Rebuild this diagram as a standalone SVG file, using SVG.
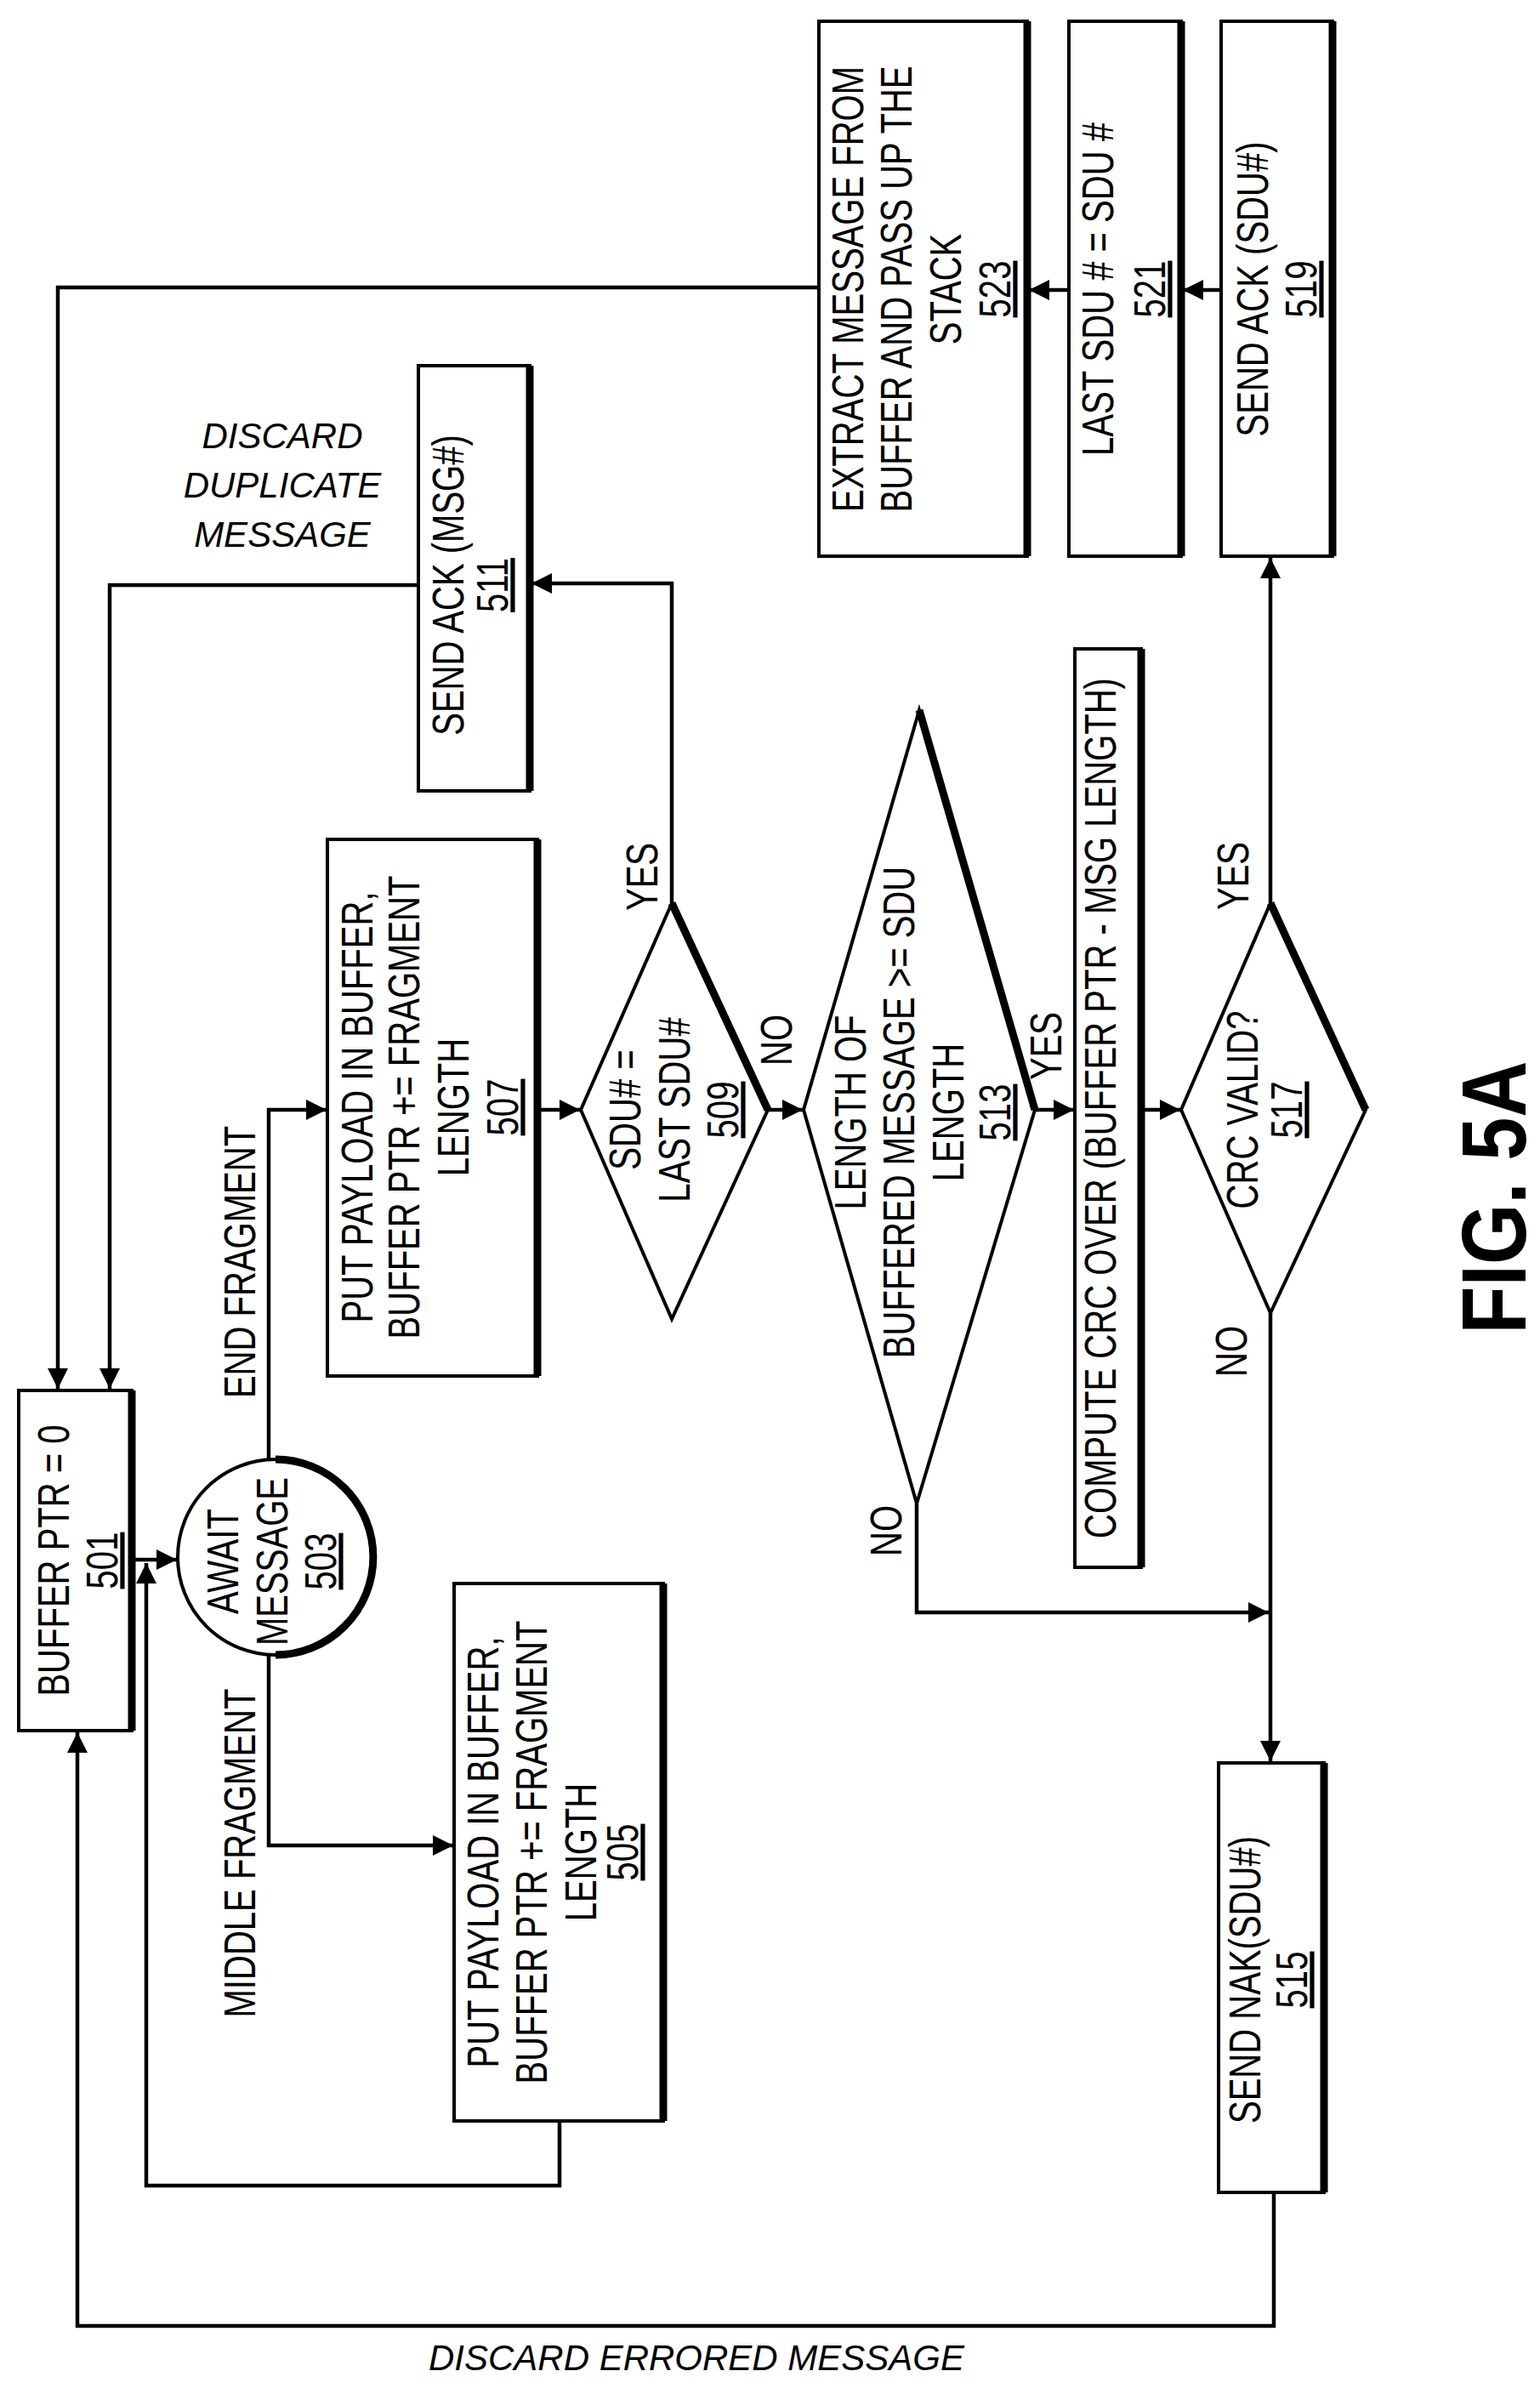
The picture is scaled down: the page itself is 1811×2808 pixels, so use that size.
<svg xmlns="http://www.w3.org/2000/svg" width="1811" height="2808" viewBox="0 0 1811 2808">
<style>
.b{fill:#fff;stroke:#000;stroke-width:4}
.sh{fill:none;stroke:#000;stroke-width:9}
.c{fill:none;stroke:#000;stroke-width:4.5}
text{font-family:"Liberation Sans",Arial,sans-serif;font-size:52px;fill:#000}
.u{text-decoration:underline}
.i{font-style:italic;font-size:42px}
.f{font-weight:bold;font-size:108px}
</style>
<defs>
<marker id="a" markerUnits="userSpaceOnUse" markerWidth="26" markerHeight="24" refX="24" refY="12" orient="auto"><path d="M0,0 L24,12 L0,24 Z" fill="#000"/></marker>
</defs>
<rect width="1811" height="2808" fill="#fff"/>
<g id="connectors">
<path class="c" d="M963,338 H68 V1633" marker-end="url(#a)"/>
<path class="c" d="M492,688 H129 V1633" marker-end="url(#a)"/>
<path class="c" d="M790,1062 V686 H625" marker-end="url(#a)"/>
<path class="c" d="M1436,341 H1391" marker-end="url(#a)"/>
<path class="c" d="M1257,341 H1210" marker-end="url(#a)"/>
<path class="c" d="M1494,1062 V656" marker-end="url(#a)"/>
<path class="c" d="M155,1834 H208" marker-end="url(#a)"/>
<path class="c" d="M316,1718 V1305 H384" marker-end="url(#a)"/>
<path class="c" d="M316,1944 V2170 H533" marker-end="url(#a)"/>
<path class="c" d="M658,2494 V2570 H172 V1838" marker-end="url(#a)"/>
<path class="c" d="M632,1305 H682" marker-end="url(#a)"/>
<path class="c" d="M903,1305 H944" marker-end="url(#a)"/>
<path class="c" d="M1217,1305 H1263" marker-end="url(#a)"/>
<path class="c" d="M1342,1305 H1388" marker-end="url(#a)"/>
<path class="c" d="M1078,1768 V1896 H1492" marker-end="url(#a)"/>
<path class="c" d="M1494,1544 V2071" marker-end="url(#a)"/>
<path class="c" d="M1498,2578 V2735 H91 V2037" marker-end="url(#a)"/>
<text class="i" x="332" y="527" text-anchor="middle">DISCARD</text>
<text class="i" x="332" y="585" text-anchor="middle">DUPLICATE</text>
<text class="i" x="332" y="643" text-anchor="middle">MESSAGE</text>
<text class="i" x="819" y="2787" text-anchor="middle">DISCARD ERRORED MESSAGE</text>
<text text-anchor="middle" transform="translate(300,1484) rotate(-90) scale(0.77,1)">END FRAGMENT</text>
<text text-anchor="middle" transform="translate(300,2179) rotate(-90) scale(0.77,1)">MIDDLE FRAGMENT</text>
<text text-anchor="middle" transform="translate(773,1031) rotate(-90) scale(0.77,1)">YES</text>
<text text-anchor="middle" transform="translate(931,1223) rotate(-90) scale(0.77,1)">NO</text>
<text text-anchor="middle" transform="translate(1248,1230) rotate(-90) scale(0.77,1)">YES</text>
<text text-anchor="middle" transform="translate(1468,1030) rotate(-90) scale(0.77,1)">YES</text>
<text text-anchor="middle" transform="translate(1060,1800) rotate(-90) scale(0.77,1)">NO</text>
<text text-anchor="middle" transform="translate(1466,1589) rotate(-90) scale(0.77,1)">NO</text>
</g>
<g id="n501">
<rect class="b" x="22" y="1635" width="133" height="400"/><path class="sh" d="M155,1635 V2035"/>
<text text-anchor="middle" transform="translate(81,1835) rotate(-90) scale(0.77,1)">BUFFER PTR = 0</text>
<text class="u" text-anchor="middle" transform="translate(138,1835) rotate(-90) scale(0.77,1)">501</text>
</g>
<g id="n503">
<circle class="b" cx="324" cy="1831" r="115"/><path class="sh" d="M324,1716 A115,115 0 0 1 324,1946"/>
<text text-anchor="middle" transform="translate(280,1836) rotate(-90) scale(0.77,1)">AWAIT</text>
<text text-anchor="middle" transform="translate(338,1836) rotate(-90) scale(0.77,1)">MESSAGE</text>
<text class="u" text-anchor="middle" transform="translate(395,1836) rotate(-90) scale(0.77,1)">503</text>
</g>
<g id="n505">
<rect class="b" x="534" y="1862" width="246" height="632"/><path class="sh" d="M780,1862 V2494"/>
<text text-anchor="middle" transform="translate(586,2178) rotate(-90) scale(0.77,1)">PUT PAYLOAD IN BUFFER,</text>
<text text-anchor="middle" transform="translate(643,2178) rotate(-90) scale(0.77,1)">BUFFER PTR += FRAGMENT</text>
<text text-anchor="middle" transform="translate(701,2178) rotate(-90) scale(0.77,1)">LENGTH</text>
<text class="u" text-anchor="middle" transform="translate(750,2178) rotate(-90) scale(0.77,1)">505</text>
</g>
<g id="n507">
<rect class="b" x="385" y="987" width="247" height="631"/><path class="sh" d="M632,987 V1618"/>
<text text-anchor="middle" transform="translate(438,1302) rotate(-90) scale(0.77,1)">PUT PAYLOAD IN BUFFER,</text>
<text text-anchor="middle" transform="translate(493,1302) rotate(-90) scale(0.77,1)">BUFFER PTR += FRAGMENT</text>
<text text-anchor="middle" transform="translate(551,1302) rotate(-90) scale(0.77,1)">LENGTH</text>
<text class="u" text-anchor="middle" transform="translate(609,1302) rotate(-90) scale(0.77,1)">507</text>
</g>
<g id="n509">
<path class="b" d="M790,1062 L903,1305 L790,1551 L683,1305 Z"/><path class="sh" d="M790,1062 L903,1305"/>
<text text-anchor="middle" transform="translate(753,1305) rotate(-90) scale(0.77,1)">SDU# =</text>
<text text-anchor="middle" transform="translate(811,1305) rotate(-90) scale(0.77,1)">LAST SDU#</text>
<text class="u" text-anchor="middle" transform="translate(868,1305) rotate(-90) scale(0.77,1)">509</text>
</g>
<g id="n511">
<rect class="b" x="492" y="430" width="131" height="500"/><path class="sh" d="M623,430 V930"/>
<text text-anchor="middle" transform="translate(545,688) rotate(-90) scale(0.77,1)">SEND ACK (MSG#)</text>
<text class="u" text-anchor="middle" transform="translate(597,688) rotate(-90) scale(0.77,1)">511</text>
</g>
<g id="n513">
<path class="b" d="M1081,835 L1217,1305 L1078,1768 L945,1305 Z"/><path class="sh" d="M1081,835 L1217,1305"/>
<text text-anchor="middle" transform="translate(1018,1308) rotate(-90) scale(0.77,1)">LENGTH OF</text>
<text text-anchor="middle" transform="translate(1075,1308) rotate(-90) scale(0.77,1)">BUFFERED MESSAGE &gt;= SDU</text>
<text text-anchor="middle" transform="translate(1133,1308) rotate(-90) scale(0.77,1)">LENGTH</text>
<text class="u" text-anchor="middle" transform="translate(1188,1308) rotate(-90) scale(0.77,1)">513</text>
</g>
<g id="n_crc">
<rect class="b" x="1264" y="763" width="78" height="1080"/><path class="sh" d="M1342,763 V1843"/>
<text text-anchor="middle" transform="translate(1312,1303) rotate(-90) scale(0.77,1)">COMPUTE CRC OVER (BUFFER PTR - MSG LENGTH)</text>
</g>
<g id="n517">
<path class="b" d="M1494,1062 L1606,1305 L1494,1544 L1389,1305 Z"/><path class="sh" d="M1494,1062 L1606,1305"/>
<text text-anchor="middle" transform="translate(1479,1305) rotate(-90) scale(0.77,1)">CRC VALID?</text>
<text class="u" text-anchor="middle" transform="translate(1531,1305) rotate(-90) scale(0.77,1)">517</text>
</g>
<g id="n515">
<rect class="b" x="1433" y="2073" width="124" height="505"/><path class="sh" d="M1557,2073 V2578"/>
<text text-anchor="middle" transform="translate(1482,2328) rotate(-90) scale(0.77,1)">SEND NAK(SDU#)</text>
<text class="u" text-anchor="middle" transform="translate(1537,2328) rotate(-90) scale(0.77,1)">515</text>
</g>
<g id="n519">
<rect class="b" x="1436" y="25" width="131" height="629"/><path class="sh" d="M1567,25 V654"/>
<text text-anchor="middle" transform="translate(1491,340) rotate(-90) scale(0.77,1)">SEND ACK (SDU#)</text>
<text class="u" text-anchor="middle" transform="translate(1548,340) rotate(-90) scale(0.77,1)">519</text>
</g>
<g id="n521">
<rect class="b" x="1257" y="25" width="132" height="629"/><path class="sh" d="M1389,25 V654"/>
<text text-anchor="middle" transform="translate(1309,340) rotate(-90) scale(0.77,1)">LAST SDU # = SDU #</text>
<text class="u" text-anchor="middle" transform="translate(1370,340) rotate(-90) scale(0.77,1)">521</text>
</g>
<g id="n523">
<rect class="b" x="963" y="25" width="245" height="629"/><path class="sh" d="M1208,25 V654"/>
<text text-anchor="middle" transform="translate(1015,340) rotate(-90) scale(0.77,1)">EXTRACT MESSAGE FROM</text>
<text text-anchor="middle" transform="translate(1072,340) rotate(-90) scale(0.77,1)">BUFFER AND PASS UP THE</text>
<text text-anchor="middle" transform="translate(1130,340) rotate(-90) scale(0.77,1)">STACK</text>
<text class="u" text-anchor="middle" transform="translate(1188,340) rotate(-90) scale(0.77,1)">523</text>
</g>
<text class="f" text-anchor="middle" transform="translate(1794,1408) rotate(-90) scale(0.85,1)">FIG. 5A</text>
</svg>
